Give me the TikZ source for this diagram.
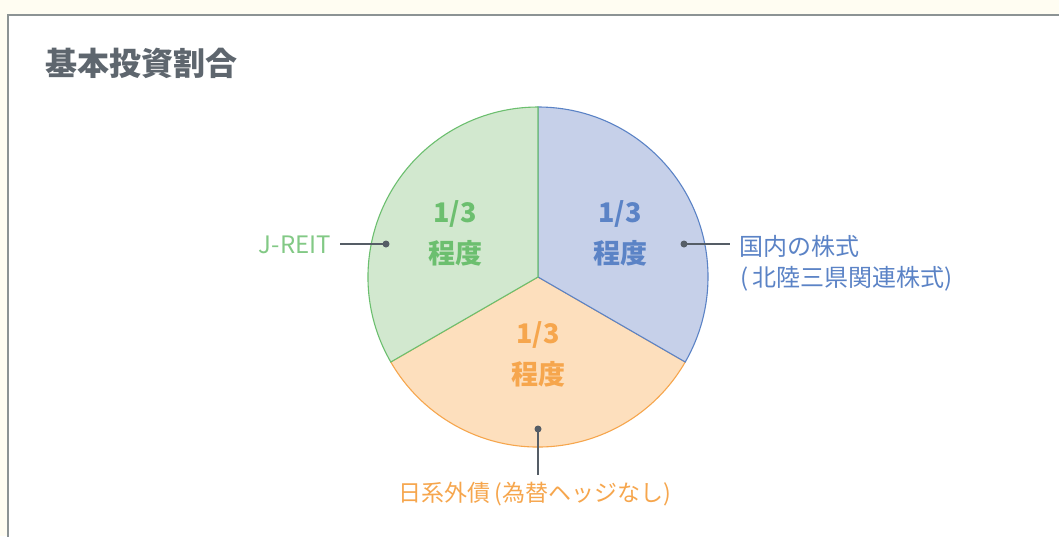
\documentclass[tikz,border=0pt]{standalone}
\usepackage{fontspec}
\setmainfont{Noto Sans CJK JP}
\usetikzlibrary{positioning}

\definecolor{cream}{HTML}{FFFDF2}
\definecolor{frame}{HTML}{8C9394}
\definecolor{titlegray}{HTML}{5E666E}
\definecolor{dotgray}{HTML}{555D66}
\definecolor{greenfill}{HTML}{D2E8CF}
\definecolor{greenline}{HTML}{6CBF6F}
\definecolor{bluefill}{HTML}{C6D0E9}
\definecolor{blueline}{HTML}{5B83C6}
\definecolor{orangefill}{HTML}{FDDFBD}
\definecolor{orangeline}{HTML}{F6A64D}

\begin{document}
\begin{tikzpicture}[
    x=1pt, y=1pt,
    slice/.style={line width=1.1pt},
    share_text/.style={font=\fontsize{27}{41}\selectfont\bfseries, align=center, inner sep=0pt},
    label_text/.style={font=\fontsize{24}{33}\selectfont, inner sep=0pt},
    leader/.style={draw=dotgray, line width=1.2pt},
    pin_dot/.style={circle, fill=dotgray, minimum size=7pt, inner sep=0pt}
]
\useasboundingbox (0,0) rectangle (1059,-536);

% Background and panel
\fill[cream] (0,0) rectangle (1059,-536);
\filldraw[fill=white, draw=frame, line width=2pt] (8,-15) rectangle (1070,-546);

% Title
\node (title) [font=\fontsize{32}{36}\selectfont\bfseries, text=titlegray, anchor=west, inner sep=0pt] at (45,-63) {基本投資割合};

% Pie
\coordinate (centre) at (538,-277);
\filldraw[slice, fill=orangefill, draw=orangeline] (centre) -- ++(-30:170) arc[start angle=-30, end angle=-150, radius=170] -- cycle;
\filldraw[slice, fill=bluefill, draw=blueline] (centre) -- ++(90:170) arc[start angle=90, end angle=-30, radius=170] -- cycle;
\filldraw[slice, fill=greenfill, draw=greenline] (centre) -- ++(210:170) arc[start angle=210, end angle=90, radius=170] -- cycle;

% Shares
\node (green_share) [share_text, text=greenline] at (455,-233) {1/3\\程度};
\node (blue_share) [share_text, text=blueline] at (620,-233) {1/3\\程度};
\node (orange_share) [share_text, text=orangeline] at (538,-354) {1/3\\程度};

% Leaders
\node (green_dot) [pin_dot] at (386,-244) {};
\node (blue_dot) [pin_dot] at (684,-244) {};
\node (orange_dot) [pin_dot] at (538,-429) {};

\node (green_label) [label_text, text=greenline!85, anchor=east] at (331,-245) {J-REIT};
\node (blue_label) [label_text, text=blueline, anchor=west] at (739,-246) {国内の株式};
\node (blue_label2) [label_text, text=blueline, anchor=west] at (740,-279) {(\,北陸三県関連株式)};
\node (orange_label) [label_text, font=\fontsize{23}{27}\selectfont, text=orangeline] at (535,-494) {日系外債\,(為替ヘッジなし)};

\draw[leader] (green_dot.center) -- ++(-46,0) coordinate (green_end);
\draw[leader] (blue_dot.center) -- ++(46,0) coordinate (blue_end);
\draw[leader] (orange_dot.center) -- ++(0,-46) coordinate (orange_end);

\end{tikzpicture}
\end{document}
